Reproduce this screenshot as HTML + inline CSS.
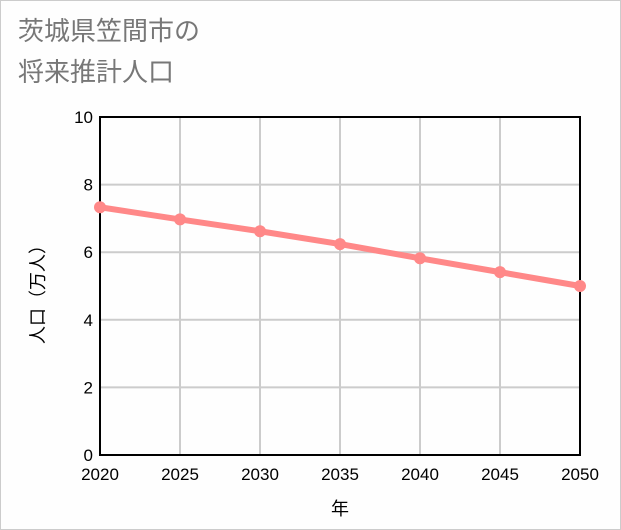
<!DOCTYPE html>
<html><head><meta charset="utf-8"><style>
body{margin:0;background:#fff}
#wrap{position:relative;width:619px;height:528px;border:1px solid #ccc;background:#fefefe;font-family:"Liberation Sans","Noto Sans CJK JP",sans-serif}
.t{position:absolute;left:17px;font-size:26px;color:#777;line-height:1}
</style></head><body>
<div id="wrap">
<div class="t" style="top:17px">茨城県笠間市の</div>
<div class="t" style="top:58px">将来推計人口</div>
<svg id="c" width="621" height="530" style="position:absolute;left:-1px;top:-1px"></svg>
</div>
<script>
const years=[2020,2025,2030,2035,2040,2045,2050];
const pop=[7.33,6.97,6.62,6.24,5.82,5.41,5.00];
const yTicks=[0,2,4,6,8,10];
const X0=100,X1=580,Y0=455,Y1=117;
const sx=v=>X0+(v-2020)/30*(X1-X0);
const sy=v=>Y0-v/10*(Y0-Y1);
const svg=document.getElementById('c');const NS='http://www.w3.org/2000/svg';
function mk(t,a,txt){const e=document.createElementNS(NS,t);for(const k in a)e.setAttribute(k,a[k]);if(txt!==undefined)e.textContent=txt;svg.appendChild(e);return e;}
yTicks.forEach(v=>{const l=mk('line',{x1:X0,x2:X1,y1:sy(v),y2:sy(v),stroke:'#ccc','stroke-width':2});


const t=mk('text',{x:X0-7,y:sy(v)+6,'text-anchor':'end','font-size':17,fill:'#000','font-family':'Liberation Sans,sans-serif'},v);

});
years.forEach(v=>{const l=mk('line',{x1:sx(v),x2:sx(v),y1:Y1,y2:Y0,stroke:'#ccc','stroke-width':2});


const t=mk('text',{x:sx(v),y:480,'text-anchor':'middle','font-size':17,fill:'#000','font-family':'Liberation Sans,sans-serif'},v);

});
const fr=mk('rect',{x:X0,y:Y1,width:X1-X0,height:Y0-Y1,fill:'none',stroke:'#000','stroke-width':2});


const ln=mk('polyline',{points:years.map((y,i)=>sx(y)+','+sy(pop[i])).join(' '),fill:'none',stroke:'#ff8888','stroke-width':6});


years.forEach((y,i)=>{const c=mk('circle',{cx:sx(y),cy:sy(pop[i]),r:6,fill:'#ff8888'});

});
const xt=mk('text',{x:340,y:515,'text-anchor':'middle','font-size':18,fill:'#000','font-family':'Liberation Sans,Noto Sans CJK JP,sans-serif'},'年');


const yt=mk('text',{x:0,y:0,'text-anchor':'middle','font-size':18,fill:'#000','font-family':'Liberation Sans,Noto Sans CJK JP,sans-serif',transform:'translate(44,290) rotate(-90)'},'人口（万人）');


</script>
</body></html>
